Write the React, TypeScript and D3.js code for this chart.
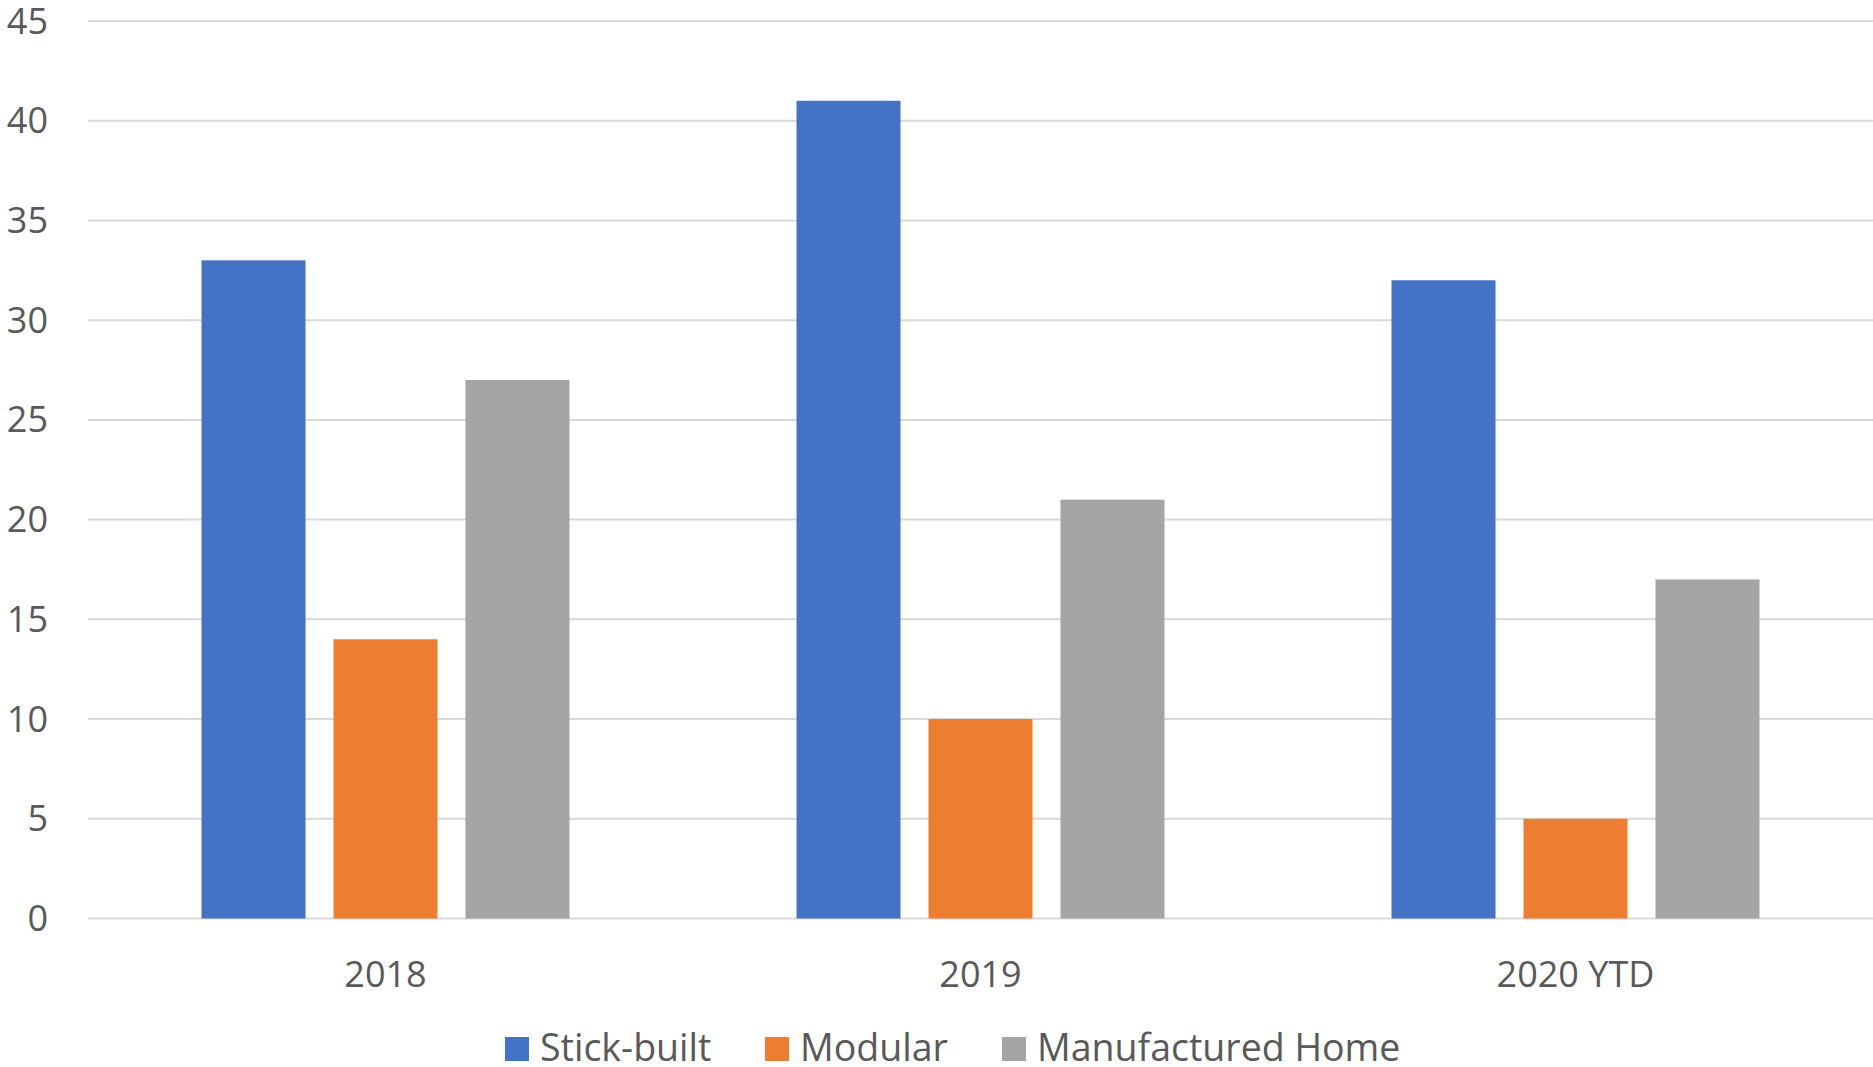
import * as d3 from 'd3';
import * as React from 'react';

// chart data
const categories = ['2018', '2019', '2020 YTD'];
const seriesNames = ['Stick-built', 'Modular', 'Manufactured Home'];
const stickBuilt = [33, 41, 32];
const modular = [14, 10, 5];
const manufactured = [27, 21, 17];
const yTicks = [0, 5, 10, 15, 20, 25, 30, 35, 40, 45];
const colors = ['#4472C4', '#ED7D31', '#A5A5A5'];

const W = 1873, H = 1067;
const margin = { top: 21, left: 88, right: 0, bottom: 148.5 };
const FONT = "'Open Sans', sans-serif";

export default function App() {
  const series = [stickBuilt, modular, manufactured];

  const x0 = d3.scaleBand<string>()
    .domain(categories)
    .range([margin.left, W - margin.right])
    .padding(0);

  const x1 = d3.scaleBand<string>()
    .domain(seriesNames)
    .range([0, x0.bandwidth()])
    .paddingInner(0.212)
    .paddingOuter(0.86);

  const y = d3.scaleLinear()
    .domain([0, 45])
    .range([H - margin.bottom, margin.top]);

  // legend layout (x start of each swatch)
  const legendX = [505, 765, 1002];
  const legendBase = 1061;

  return (
    <svg width={W} height={H} style={{ position: 'absolute', left: 0, top: 0, background: '#fff' }}
      fontFamily={FONT}>
      <g>
        {yTicks.map(t => (
          <g key={t}>
            <line x1={margin.left} x2={W - margin.right} y1={y(t)} y2={y(t)}
              stroke="#D9D9D9" strokeWidth={2} />
            <text x={48} y={y(t)} dy="0.35em" textAnchor="end" fontSize={36} fill="#595959">{t}</text>
          </g>
        ))}
      </g>
      <g>
        {categories.map((c, ci) => (
          <g key={c} transform={`translate(${x0(c)},0)`}>
            {series.map((s, si) => (
              <rect key={si}
                x={x1(seriesNames[si])}
                y={y(s[ci])}
                width={x1.bandwidth()}
                height={y(0) - y(s[ci])}
                fill={colors[si]} />
            ))}
          </g>
        ))}
      </g>
      <g>
        {categories.map(c => (
          <text key={c} x={(x0(c) || 0) + x0.bandwidth() / 2} y={974} dy="0.35em"
            textAnchor="middle" fontSize={36} fill="#595959">{c}</text>
        ))}
      </g>
      <g>
        {seriesNames.map((n, i) => (
          <g key={n}>
            <rect x={legendX[i]} y={legendBase - 24} width={24} height={24} fill={colors[i]} />
            <text x={legendX[i] + 35} y={legendBase} fontSize={37.5} fill="#595959">{n}</text>
          </g>
        ))}
      </g>
    </svg>
  );
}
